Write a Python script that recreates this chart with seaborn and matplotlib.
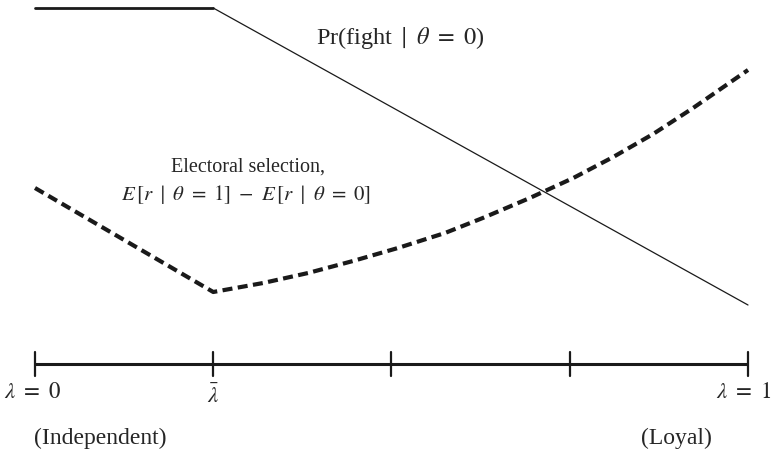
import matplotlib

matplotlib.use("Agg")

import matplotlib.pyplot as plt
import pandas as pd
import seaborn as sns

# lambda on [0, 1], lambda_bar = 0.25; heights in arbitrary units
LAMBDA_BAR = 0.25
fight_x = [0.0, 0.25, 1.0]
fight_y = [462, 462, 165]

selection_x = [0.0, 0.25, 0.32, 0.383, 0.446, 0.509, 0.575, 0.628, 0.694, 0.755,
               0.811, 0.867, 0.923, 1.0]
selection_y = [282, 178, 187, 197, 209, 222, 237, 252, 272, 292, 313, 336, 362, 400]

tick_positions = [0.0, 0.25, 0.5, 0.75, 1.0]
tick_labels = [r"$\lambda\ =\ 0$", r"$\bar{\lambda}$", r"$\lambda\ =\ 1$"]
end_labels = ["(Independent)", "(Loyal)"]

AXIS_Y = 106

sns.set_style("white")
plt.rcParams["font.family"] = ["Liberation Serif", "DejaVu Serif"]
plt.rcParams["mathtext.fontset"] = "stix"

fig = plt.figure(figsize=(7.75, 4.7), dpi=100)
ax = fig.add_axes([0, 0, 1, 1])
ax.set_xlim(-35 / 713, 740 / 713)
ax.set_ylim(0, 470)
ax.axis("off")

flat = pd.DataFrame({"x": fight_x[:2], "y": fight_y[:2]})
slope = pd.DataFrame({"x": fight_x[1:], "y": fight_y[1:]})
sns.lineplot(data=flat, x="x", y="y", ax=ax, color="#1a1a1a", linewidth=2.0)
sns.lineplot(data=slope, x="x", y="y", ax=ax, color="#1a1a1a", linewidth=0.9)

sel = pd.DataFrame({"x": selection_x, "y": selection_y})
line = sns.lineplot(data=sel, x="x", y="y", ax=ax, color="#1a1a1a", linewidth=3.0)
line.lines[-1].set_dashes((2.4, 1.3))
line.lines[-1].set_dash_capstyle("butt")

# horizontal lambda axis
ax.plot([0, 1], [AXIS_Y, AXIS_Y], color="#1a1a1a", linewidth=2.2, solid_capstyle="butt")
for t in tick_positions:
    ax.plot([t, t], [AXIS_Y - 12, AXIS_Y + 12], color="#1a1a1a", linewidth=1.6)

ax.text(-0.003, 78, tick_labels[0], ha="center", va="center", fontsize=16.5)
ax.text(LAMBDA_BAR, 74, tick_labels[1], ha="center", va="center", fontsize=16.5)
ax.text(0.994, 78, tick_labels[2], ha="center", va="center", fontsize=16.5)
ax.text(0.092, 32, end_labels[0], ha="center", va="center", fontsize=17)
ax.text(0.90, 32, end_labels[1], ha="center", va="center", fontsize=17)

ax.text(0.512, 432, r"Pr(fight$\ \mid\ \theta\ =\ 0$)", ha="center", va="center", fontsize=17.5)
ax.text(0.299, 303, "Electoral selection,", ha="center", va="center", fontsize=14.5)
ax.text(0.296, 275, r"$E\,[r\ \mid\ \theta\ =\ 1]\ -\ E\,[r\ \mid\ \theta\ =\ 0]$",
        ha="center", va="center", fontsize=15)

fig.savefig("out.png", dpi=100)
plt.close(fig)
